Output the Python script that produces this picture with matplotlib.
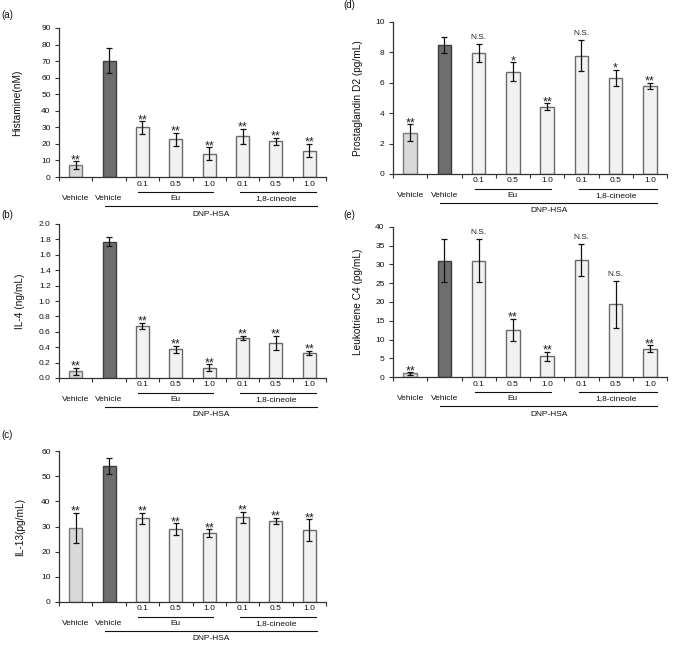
import numpy as np
import matplotlib

matplotlib.use("Agg")
import matplotlib.pyplot as plt
from matplotlib.transforms import offset_copy

plt.rcParams["font.family"] = ["Liberation Sans", "DejaVu Sans"]

W, H = 677, 646

# group labels
dose_labels = ["", "", "0.1", "0.5", "1.0", "0.1", "0.5", "1.0"]
vehicle_labels = ["Vehicle", "Vehicle", "", "", "", "", "", ""]

# (a) histamine
hist_mean = [7.2, 70.3, 30.0, 22.7, 14.0, 24.6, 21.6, 16.0]
hist_err = [2.5, 7.5, 3.8, 4.0, 4.0, 4.5, 2.2, 4.0]
hist_sig = ["**", "", "**", "**", "**", "**", "**", "**"]

# (b) IL-4
il4_mean = [0.09, 1.77, 0.68, 0.375, 0.135, 0.52, 0.46, 0.325]
il4_err = [0.045, 0.06, 0.04, 0.046, 0.042, 0.03, 0.09, 0.03]
il4_sig = ["**", "", "**", "**", "**", "**", "**", "**"]

# (c) IL-13
il13_mean = [29.4, 54.0, 33.3, 29.1, 27.4, 33.6, 32.2, 28.6]
il13_err = [6.0, 3.1, 2.2, 2.3, 1.6, 2.2, 1.3, 4.4]
il13_sig = ["**", "", "**", "**", "**", "**", "**", "**"]

# (d) PGD2
pgd2_mean = [2.72, 8.51, 7.96, 6.72, 4.43, 7.79, 6.32, 5.80]
pgd2_err = [0.55, 0.52, 0.62, 0.62, 0.22, 1.03, 0.53, 0.21]
pgd2_sig = ["**", "", "N.S.", "*", "**", "N.S.", "*", "**"]

# (e) LTC4
ltc4_mean = [1.0, 31.0, 31.0, 12.5, 5.5, 31.2, 19.4, 7.6]
ltc4_err = [0.35, 5.8, 5.8, 3.0, 1.25, 4.3, 6.3, 0.9]
ltc4_sig = ["**", "", "N.S.", "**", "**", "N.S.", "N.S.", "**"]

bar_colors = ["#d9d9d9", "#6e6e6e"] + ["#f2f2f2"] * 6
edge_colors = ["#7a7a7a", "#3c3c3c"] + ["#6a6a6a"] * 6


def px_rect(x0, y_top, x1, y_bot):
    return [x0 / W, 1 - y_bot / H, (x1 - x0) / W, (y_bot - y_top) / H]


def draw_panel(fig, rect, mean, err, sig, ylim, yticks, ylabel, ylab_x, fmt):
    ax = fig.add_axes(rect)
    x = np.arange(len(mean))
    ax.bar(x, mean, width=0.39, color=bar_colors, edgecolor=edge_colors,
           linewidth=1.0, zorder=2)
    ax.errorbar(x, mean, yerr=err, fmt="none", ecolor="#111111",
                elinewidth=0.9, capsize=2.2, capthick=0.9, zorder=3)
    for xi, m, e, s in zip(x, mean, err, sig):
        if not s:
            continue
        if s.startswith("N"):
            ax.annotate(s, (xi, m + e), xytext=(0, 3), textcoords="offset pixels",
                        ha="center", va="bottom", fontsize=6, color="#222222")
        else:
            ax.annotate(s, (xi, m + e), xytext=(0, -2), textcoords="offset pixels",
                        ha="center", va="baseline", fontsize=9, color="#222222")

    ax.set_xlim(-0.5, 7.5)
    ax.set_ylim(*ylim)
    ax.set_yticks(yticks)
    ax.set_yticklabels([fmt.format(v) for v in yticks])
    ax.set_xticks(np.arange(-0.5, 8.0, 1.0))
    ax.set_xticklabels([])
    for side in ("top", "right"):
        ax.spines[side].set_visible(False)
    for side in ("left", "bottom"):
        ax.spines[side].set_color("#333333")
        ax.spines[side].set_linewidth(0.9)
    ax.tick_params(axis="both", direction="out", length=3, width=0.8,
                   colors="#333333", labelsize=6, pad=3)
    ax.tick_params(axis="y", labelcolor="#111111")
    ax.set_ylabel(ylabel, fontsize=7.3, color="#111111")
    ax.yaxis.set_label_coords(ylab_x, 0.5)

    # category text and grouping lines under the axis
    xtr = ax.get_xaxis_transform()

    def under(dy):
        return offset_copy(xtr, fig=fig, x=0, y=dy, units="dots")

    for xi, lab in zip(x, dose_labels):
        if lab:
            ax.text(xi, 0, lab, transform=under(-7), ha="center", va="center",
                    fontsize=6, color="#111111")
    for xi, lab in zip(x, vehicle_labels):
        if lab:
            ax.text(xi, 0, lab, transform=under(-21.5), ha="center", va="center",
                    fontsize=6, color="#111111")
    ax.plot([1.88, 4.1], [0, 0], transform=under(-14.5), color="#111111",
            lw=0.8, clip_on=False)
    ax.plot([4.92, 7.2], [0, 0], transform=under(-14.5), color="#111111",
            lw=0.8, clip_on=False)
    ax.text(3.0, 0, "Eu", transform=under(-21.5), ha="center", va="center",
            fontsize=6, color="#111111")
    ax.text(6.0, 0, "1,8-cineole", transform=under(-21.5), ha="center",
            va="center", fontsize=6, color="#111111")
    ax.plot([0.88, 7.22], [0, 0], transform=under(-29), color="#111111",
            lw=0.8, clip_on=False)
    ax.text(4.05, 0, "DNP-HSA", transform=under(-37), ha="center",
            va="center", fontsize=6, color="#111111")
    return ax


fig = plt.figure(figsize=(W / 100, H / 100), dpi=100)

draw_panel(fig, px_rect(59, 28, 326, 177), hist_mean, hist_err, hist_sig,
           (0, 90), np.arange(0, 91, 10), "Histamine(nM)", -0.139, "{:.0f}")
draw_panel(fig, px_rect(59, 224, 326, 378), il4_mean, il4_err, il4_sig,
           (0, 2.0), np.round(np.arange(0, 2.01, 0.2), 1), "IL-4 (ng/mL)",
           -0.127, "{:.1f}")
draw_panel(fig, px_rect(59, 451, 326, 602), il13_mean, il13_err, il13_sig,
           (0, 60), np.arange(0, 61, 10), "IL-13(pg/mL)", -0.127, "{:.0f}")
draw_panel(fig, px_rect(393, 22, 667, 174), pgd2_mean, pgd2_err, pgd2_sig,
           (0, 10), np.arange(0, 11, 2), "Prostaglandin D2 (pg/mL)", -0.109,
           "{:.0f}")
draw_panel(fig, px_rect(393, 227, 667, 377), ltc4_mean, ltc4_err, ltc4_sig,
           (0, 40), np.arange(0, 41, 5), "Leukotriene C4 (pg/mL)", -0.109,
           "{:.0f}")

for lab, px, py in [("(a)", 1, 15), ("(b)", 1, 215), ("(c)", 1, 435),
                    ("(d)", 343, 5), ("(e)", 343, 215)]:
    fig.text(px / W, 1 - py / H, lab, ha="left", va="center", fontsize=7,
             color="#111111")

fig.savefig("out.png", dpi=100)
